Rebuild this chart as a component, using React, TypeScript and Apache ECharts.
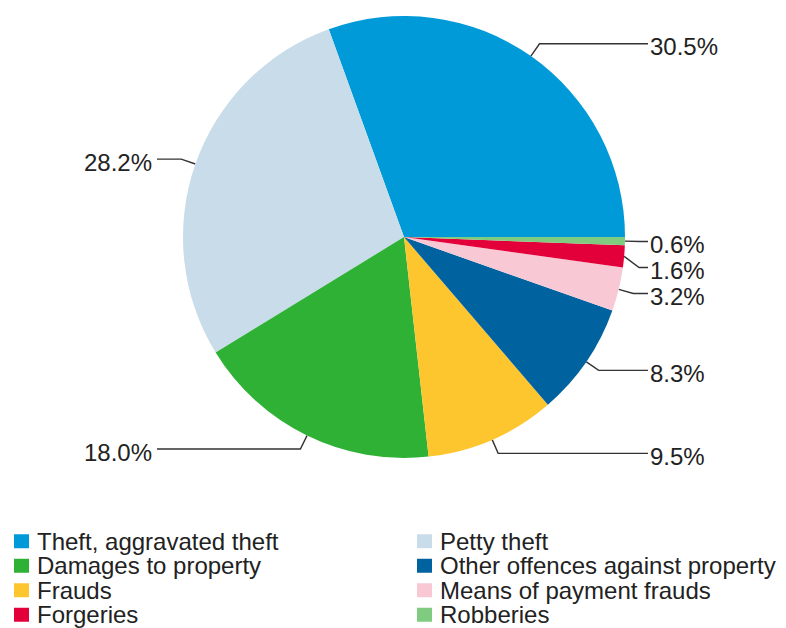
import React, { useEffect, useRef } from 'react';
import * as echarts from 'echarts';

const categories = [
  'Theft, aggravated theft',
  'Petty theft',
  'Damages to property',
  'Frauds',
  'Other offences against property',
  'Means of payment frauds',
  'Forgeries',
  'Robberies',
];
const shares = [30.5, 28.2, 18.0, 9.5, 8.3, 3.2, 1.6, 0.6];
const colors = ['#009ad9', '#c8dcea', '#2eb135', '#fdc62f', '#00629f', '#f8c8d4', '#e3003a', '#7fcc80'];
const legendLeftColumn = ['Theft, aggravated theft', 'Damages to property', 'Frauds', 'Forgeries'];
const legendRightColumn = ['Petty theft', 'Other offences against property', 'Means of payment frauds', 'Robberies'];

const FONT = '"Liberation Sans", Arial, sans-serif';
const CX = 404;
const CY = 237;
const R = 221;

export default function App() {
  const ref = useRef<HTMLDivElement>(null);
  useEffect(() => {
    if (!ref.current) return;
    const chart = echarts.init(ref.current, null, { renderer: 'svg' });
    const legendCommon = {
      orient: 'vertical' as const,
      top: 529,
      padding: 0,
      itemGap: 0,
      itemWidth: 15,
      itemHeight: 14,
      icon: 'rect',
      selectedMode: false,
      textStyle: {
        fontFamily: FONT,
        fontSize: 24,
        lineHeight: 24.5,
        color: '#222',
        padding: [0, 0, 0, 3],
      },
    };
    chart.setOption({
      animation: false,
      color: colors,
      legend: [
        { ...legendCommon, left: 14, data: legendLeftColumn },
        { ...legendCommon, left: 417, data: legendRightColumn },
      ],
      series: [
        {
          type: 'pie',
          center: [CX, CY],
          radius: R,
          startAngle: 0,
          clockwise: false,
          silent: true,
          itemStyle: { borderWidth: 0 },
          data: categories.map((name, i) => ({ name, value: shares[i] })),
          label: {
            show: true,
            position: 'outside',
            alignTo: 'labelLine',
            fontFamily: FONT,
            fontSize: 24,
            lineHeight: 24,
            color: '#222',
            formatter: (p: any) => `${Number(p.value).toFixed(1)}%`,
          },
          labelLine: {
            show: true,
            length: 15,
            length2: 10,
            smooth: false,
            lineStyle: { color: '#333', width: 1.4 },
          },
          labelLayout: (params: any) => {
            const pts = params.labelLinePoints;
            if (!pts || pts.length < 3) return {};
            const isLeft = pts[0][0] < CX;
            if (isLeft) {
              const x = CX - R - 31;
              pts[2][0] = x + 5;
              return { x, dy: 3, align: 'right', labelLinePoints: pts };
            }
            const x = CX + R + 25;
            pts[2][0] = x - 2;
            return { x, dy: 3, align: 'left', labelLinePoints: pts };
          },
        },
      ],
    });
    return () => chart.dispose();
  }, []);
  return (
    <div
      ref={ref}
      style={{ position: 'fixed', left: 0, top: 0, width: 786, height: 628, background: '#fff' }}
    />
  );
}
